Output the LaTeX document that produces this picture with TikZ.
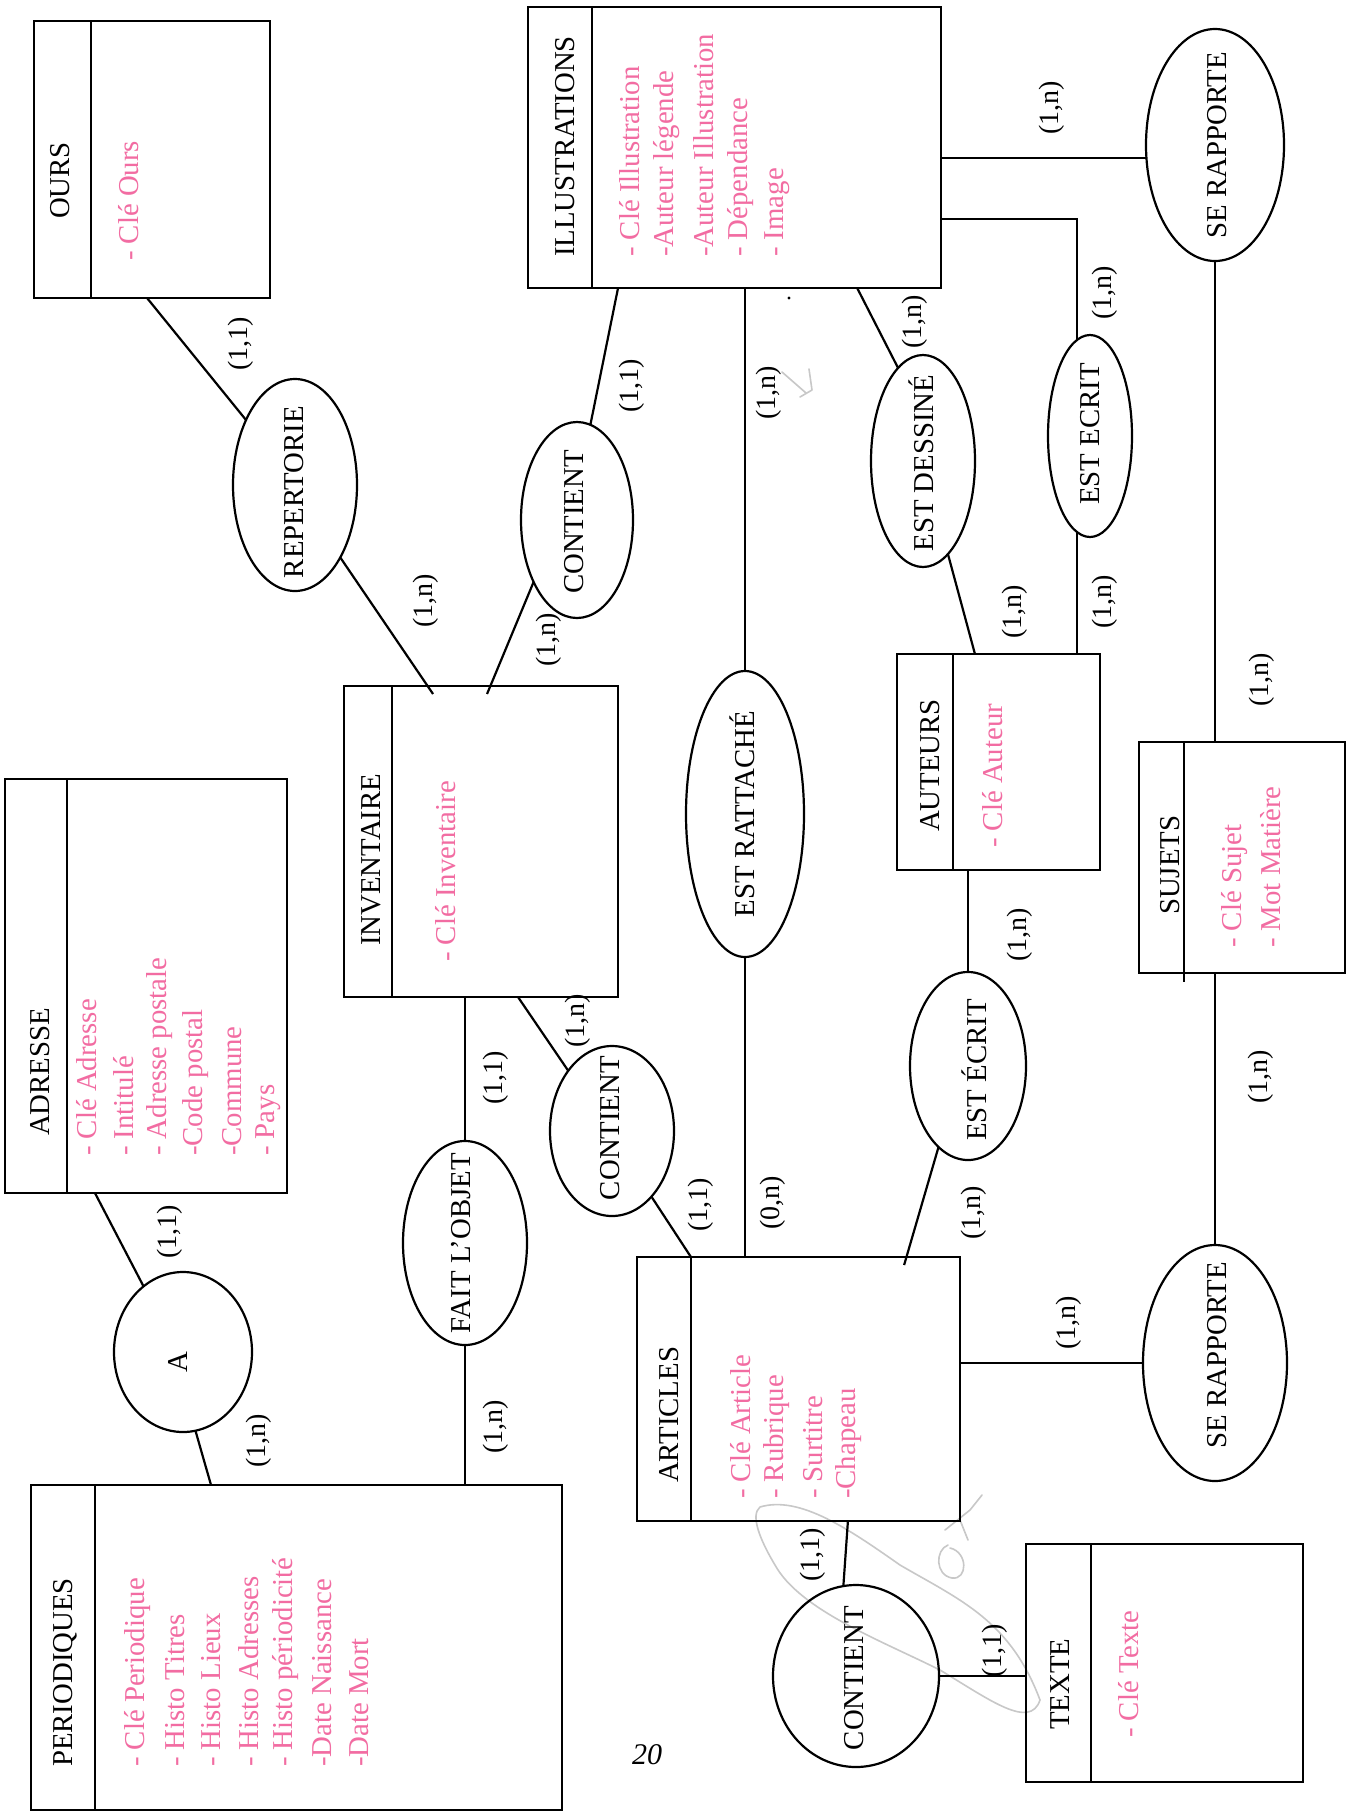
\documentclass[tikz,border=0pt]{standalone}
\usepackage{fontspec}
\setmainfont{Liberation Serif}
\usetikzlibrary{shapes.geometric,calc}
\definecolor{attrpink}{RGB}{242,108,162}
\definecolor{pencil}{RGB}{200,200,200}
\tikzset{
 entity/.style={draw, line width=2.4pt, rectangle, inner sep=0pt, outer sep=0pt},
 rel/.style={draw, line width=2.2pt, ellipse, inner sep=0pt, outer sep=0pt},
 conn/.style={line width=2.2pt},
 ttl/.style={rotate=90, inner sep=0pt, anchor=west, font=\fontsize{28.8}{34}\selectfont},
 rtxt/.style={rotate=90, inner sep=0pt, font=\fontsize{28.8}{34}\selectfont},
 attr/.style={ttl, text=attrpink},
 card/.style={rotate=90, inner sep=0pt, font=\fontsize{28}{30}\selectfont},
 pencilmark/.style={draw=pencil, line width=1.6pt, line cap=round, line join=round},
}
\newcommand\attrlist[5]{%
  \foreach \t [count=\i] in {#5} {\node[attr] (#1-\i) at ({#2+#3*(\i-1)},#4) {\t};}%
}
\begin{document}
\begin{tikzpicture}[x=1pt,y=-1pt]
\useasboundingbox[fill=white] (0,0) rectangle (1351,1813);

% pencil marks (behind everything)
\draw[pencilmark] (760,1507) .. controls (800,1495) and (850,1530) .. (900,1565)
  .. controls (960,1600) and (1010,1620) .. (1040,1700)
  .. controls (1030,1730) and (990,1700) .. (940,1670)
  .. controls (880,1640) and (800,1610) .. (775,1565)
  .. controls (760,1540) and (750,1515) .. (760,1507);
\draw[pencilmark] (948,1545) .. controls (935,1550) and (935,1575) .. (952,1578)
  .. controls (968,1580) and (968,1552) .. (950,1548);
\draw[pencilmark] (945,1530) -- (970,1510) -- (982,1495);
\draw[pencilmark] (960,1520) -- (968,1540);
\draw[pencilmark] (809,369) -- (812,390) -- (800,397);
\draw[pencilmark] (782,372) -- (806,393);
\fill (789,298) circle (1.6);

% entities
\node[entity, minimum width=236, minimum height=277] (ours) at (152,159.5) {};
\node[entity, minimum width=413, minimum height=281] (ill) at (734.5,147.5) {};
\node[entity, minimum width=282, minimum height=414] (adr) at (146,986) {};
\node[entity, minimum width=274, minimum height=311] (inv) at (481,841.5) {};
\node[entity, minimum width=531, minimum height=325] (per) at (296.5,1647.5) {};
\node[entity, minimum width=323, minimum height=264] (art) at (798.5,1389) {};
\node[entity, minimum width=203, minimum height=216] (aut) at (998.5,762) {};
\node[entity, minimum width=206, minimum height=231] (suj) at (1242,857.5) {};
\node[entity, minimum width=277, minimum height=238] (tex) at (1164.5,1663) {};

% dividers
\draw[conn] ($(ours.north west)+(57,0)$) -- ($(ours.south west)+(57,0)$);
\draw[conn] ($(ill.north west)+(64,0)$) -- ($(ill.south west)+(64,0)$);
\draw[conn] ($(adr.north west)+(62,0)$) -- ($(adr.south west)+(62,0)$);
\draw[conn] ($(inv.north west)+(48,0)$) -- ($(inv.south west)+(48,0)$);
\draw[conn] ($(per.north west)+(64,0)$) -- ($(per.south west)+(64,0)$);
\draw[conn] ($(art.north west)+(54,0)$) -- ($(art.south west)+(54,0)$);
\draw[conn] ($(aut.north west)+(56,0)$) -- ($(aut.south west)+(56,0)$);
\draw[conn] ($(suj.north west)+(45,0)$) -- ($(suj.south west)+(45,9)$);
\draw[conn] ($(tex.north west)+(65,0)$) -- ($(tex.south west)+(65,0)$);

% entity titles
\node[ttl] (oursT) at (60,219) {OURS};
\node[ttl] (illT) at (565,257) {ILLUSTRATIONS};
\node[ttl] (adrT) at (40,1136) {ADRESSE};
\node[ttl] (invT) at (371,946) {INVENTAIRE};
\node[ttl] (perT) at (65,1767) {PERIODIQUES};
\node[ttl] (artT) at (669,1483) {ARTICLES};
\node[ttl] (autT) at (930,832) {AUTEURS};
\node[ttl] (sujT) at (1170,915) {SUJETS};
\node[ttl] (texT) at (1060,1730) {TEXTE};

% attributes
\attrlist{oursA}{129}{36}{261}{- Clé Ours}
\attrlist{illA}{630}{36.75}{257}{- Clé Illustration,-Auteur légende,-Auteur Illustration,- Dépendance,- Image}
\attrlist{adrA}{87}{36.2}{1156}{- Clé Adresse,- Intitulé,- Adresse postale,-Code postal,-Commune,- Pays}
\attrlist{invA}{446}{36}{962}{- Clé Inventaire}
\attrlist{perA}{138}{36.8}{1767}{- Clé Periodique,- Histo Titres,- Histo Lieux,- Histo Adresses,- Histo périodicité,-Date Naissance,-Date Mort}
\attrlist{artA}{741}{36}{1499}{- Clé Article,- Rubrique,- Surtitre,-Chapeau}
\attrlist{autA}{993}{36}{848}{- Clé Auteur}
\attrlist{sujA}{1235}{36}{948}{- Clé Sujet,- Mot Matière}
\attrlist{texA}{1129}{36}{1738}{- Clé Texte}

% relations
\node[rel, minimum width=124, minimum height=212] (rep) at (295,485) {};
\node[rel, minimum width=112, minimum height=196] (cu) at (577,520) {};
\node[rel, minimum width=138, minimum height=160] (ca) at (183,1352) {};
\node[rel, minimum width=124, minimum height=204] (fo) at (465,1243) {};
\node[rel, minimum width=124, minimum height=170] (cm) at (612,1131) {};
\node[rel, minimum width=118, minimum height=286] (er) at (745,814) {};
\node[rel, minimum width=104, minimum height=212] (ed) at (923,461) {};
\node[rel, minimum width=84, minimum height=202] (ec) at (1090,436) {};
\node[rel, minimum width=116, minimum height=188] (ee) at (968,1066) {};
\node[rel, minimum width=138, minimum height=232] (sru) at (1215,145) {};
\node[rel, minimum width=144, minimum height=236] (srl) at (1215,1363) {};
\node[rel, minimum width=166, minimum height=182] (cl) at (856,1676) {};

\node[rtxt] (repT) at (294,492) {REPERTORIE};
\node[rtxt] (cuT) at (574,522) {CONTIENT};
\node[rtxt] (caT) at (178,1362) {A};
\node[rtxt] (foT) at (461,1243) {FAIT L’OBJET};
\node[rtxt] (cmT) at (610,1128) {CONTIENT};
\node[rtxt] (erT) at (742,814) {EST RATTACHÉ};
\node[rtxt] (edT) at (921,463) {EST DESSINÉ};
\node[rtxt] (ecT) at (1090,434) {EST ECRIT};
\node[rtxt] (eeT) at (974,1070) {EST ÉCRIT};
\node[rtxt] (sruT) at (1217,145) {SE RAPPORTE};
\node[rtxt] (srlT) at (1217,1355) {SE RAPPORTE};
\node[rtxt] (clT) at (854,1678) {CONTIENT};

% connectors
\draw[conn] ($(ours.south west)!0.479!(ours.south east)$) -- (rep.127);
\draw[conn] (rep.302) -- ($(inv.north west)!0.325!(inv.north east)+(0,8)$);
\draw[conn] ($(ill.south west)!0.218!(ill.south east)$) -- (cu.82);
\draw[conn] (cu.235) -- ($(inv.north west)!0.522!(inv.north east)+(0,8)$);
\draw[conn] ($(inv.south west)!0.635!(inv.south east)$) -- (cm.126);
\draw[conn] (inv.south -| fo.north) -- (fo.north);
\draw[conn] (fo.south) -- (fo.south |- per.north);
\draw[conn] ($(adr.south west)!0.319!(adr.south east)$) -- (ca.121);
\draw[conn] (ca.279) -- ($(per.north west)!0.339!(per.north east)$);
\draw[conn] (cm.301) -- ($(art.north west)!0.167!(art.north east)$);
\draw[conn] (ill.south -| er.north) -- (er.north);
\draw[conn] (er.south) -- (er.south |- art.north);
\draw[conn] (ee.250) -- ($(art.north west)!0.827!(art.north east)+(0,8)$);
\draw[conn] (aut.south -| ee.north) -- (ee.north);
\draw[conn] ($(ill.south west)!0.797!(ill.south east)$) -- (ed.105);
\draw[conn] (ed.285) -- ($(aut.north west)!0.384!(aut.north east)$);
\coordinate (ecTop) at ($(ec.north)+(-13,5)$);
\coordinate (ecBot) at ($(ec.south)+(-13,-5)$);
\draw[conn] ($(ill.north east)!0.754!(ill.south east)$) -| (ecTop);
\draw[conn] (ecBot) -- (ecBot |- aut.north);
\coordinate (p1) at ($(ill.north east)!0.537!(ill.south east)$);
\draw[conn] (p1) -- (p1 -| sru.west);
\draw[conn] (sru.south) -- (sru.south |- suj.north);
\draw[conn] (srl.north) -- (srl.north |- suj.south);
\draw[conn] (art.east |- srl.west) -- (srl.west);
\draw[conn] ($(art.south west)!0.653!(art.south east)$) -- (cl.98);
\draw[conn] (cl.east) -- (cl.east -| tex.west);

% cardinalities
\node[card] (k1) at (241,344) {(1,1)};
\node[card] (k2) at (426,601) {(1,n)};
\node[card] (k3) at (632,386) {(1,1)};
\node[card] (k4) at (549,640) {(1,n)};
\node[card] (k5) at (769,393) {(1,n)};
\node[card] (k6) at (915,322) {(1,n)};
\node[card] (k7) at (1015,612) {(1,n)};
\node[card] (k8) at (1105,293) {(1,n)};
\node[card] (k9) at (1105,602) {(1,n)};
\node[card] (k10) at (1052,108) {(1,n)};
\node[card] (k11) at (1262,680) {(1,n)};
\node[card] (k12) at (578,1021) {(1,n)};
\node[card] (k13) at (496,1078) {(1,1)};
\node[card] (k14) at (496,1427) {(1,n)};
\node[card] (k15) at (170,1232) {(1,1)};
\node[card] (k16) at (259,1441) {(1,n)};
\node[card] (k17) at (701,1205) {(1,1)};
\node[card] (k18) at (773,1203) {(0,n)};
\node[card] (k19) at (974,1213) {(1,n)};
\node[card] (k20) at (1020,935) {(1,n)};
\node[card] (k21) at (1261,1077) {(1,n)};
\node[card] (k22) at (1069,1323) {(1,n)};
\node[card] (k23) at (813,1555) {(1,1)};
\node[card] (k24) at (995,1651) {(1,1)};

\node[inner sep=0pt, font=\fontsize{30}{30}\selectfont\itshape] (pg) at (647,1755) {20};
\end{tikzpicture}
\end{document}
